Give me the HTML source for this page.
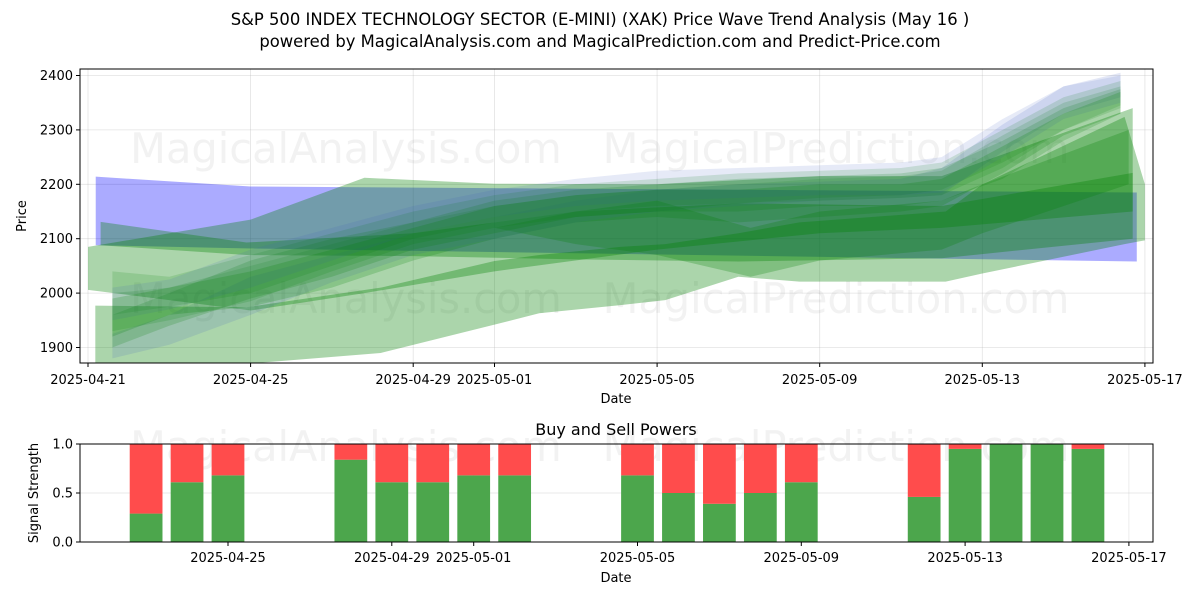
<!DOCTYPE html>
<html><head><meta charset="utf-8">
<style>
html,body{margin:0;padding:0;background:#fff;}
svg{display:block;font-family:"DejaVu Sans","Liberation Sans",sans-serif;}
</style></head>
<body>
<svg id="chart" width="1200" height="600" viewBox="0 0 1200 600" xmlns="http://www.w3.org/2000/svg">
<text x="600" y="25" text-anchor="middle" font-size="16.4">S&amp;P 500 INDEX TECHNOLOGY SECTOR (E-MINI) (XAK) Price Wave Trend Analysis (May 16 )</text>
<text x="600" y="47" text-anchor="middle" font-size="16.4">powered by MagicalAnalysis.com and MagicalPrediction.com and Predict-Price.com</text>
<g id="top"></g>
<g id="bottom"></g>
</svg>
<script>
// ---- top chart data ----
const tickDates = ["2025-04-21","2025-04-25","2025-04-29","2025-05-01","2025-05-05","2025-05-09","2025-05-13","2025-05-17"];
const tickDays = [0,4,8,10,14,18,22,26];
const priceTicks = [1900,2000,2100,2200,2300,2400];

const blueDays = [0.19,4,25.8];
const blueLo = [2088,2082,2058];
const blueHi = [2214,2196,2185];

const tealDays = [0.31,3.9,8,12,16,21,25.7];
const tealLo = [2088,2070,2068,2062,2058,2064,2100];
const tealHi = [2131,2093,2110,2150,2165,2160,2221];

const upperDays = [0,4,6.8,10,14,18,21,25.7];
const upperLo = [2006,1968,2000,2040,2080,2110,2120,2150];
const upperHi = [2085,2135,2212,2201,2200,2215,2215,2340];

const lowerDays = [0.18,3.9,7.2,10,11.1,13.1,14.2,16,17.5,21.1,22,25.5,26];
const lowerLo = [1872,1870,1890,1942,1963,1978,1987,2030,2021,2021,2036,2090,2097];
const lowerHi = [1977,1974,2010,2059,2070,2085,2090,2110,2130,2150,2200,2324,2200];

const dipDays = [10,12,14,16.3,18,21,22,25.6];
const dipLo = [2120,2090,2070,2030,2060,2080,2110,2200];
const dipHi = [2120,2150,2170,2120,2150,2170,2200,2300];

const ensDays = [0.6,2,4,6,8,10,12,14,16,18,20,21,22.5,24,25.4];
const ens1Lo = [1880,1905,1960,2020,2070,2100,2130,2150,2160,2170,2175,2180,2260,2330,2360];
const ens1Hi = [1925,1960,2030,2070,2110,2140,2170,2190,2200,2205,2210,2230,2310,2380,2405];
const ens2Lo = [1930,1950,1985,2040,2090,2120,2140,2150,2165,2170,2175,2180,2230,2300,2340];
const ens2Hi = [2000,2010,2050,2090,2130,2160,2180,2190,2200,2210,2215,2225,2290,2350,2380];
const ens3Lo = [1960,1975,2000,2050,2100,2130,2150,2160,2165,2175,2180,2190,2240,2300,2345];
const ens3Hi = [2040,2030,2070,2110,2150,2180,2200,2210,2220,2225,2230,2240,2300,2360,2390];
const ens4Lo = [1900,1940,1990,2030,2080,2110,2140,2150,2150,2160,2160,2170,2210,2280,2330];
const ens4Hi = [1960,2000,2060,2100,2130,2170,2190,2200,2210,2215,2220,2230,2280,2340,2375];
const ens5Lo = [1950,1970,2010,2060,2110,2140,2160,2170,2175,2180,2180,2185,2250,2320,2350];
const ens5Hi = [2010,2025,2080,2120,2160,2190,2210,2225,2230,2235,2240,2250,2320,2380,2400];
const ens6Lo = [1920,1960,1975,2010,2060,2100,2130,2140,2130,2140,2150,2160,2220,2290,2330];
const ens6Hi = [1990,2010,2040,2080,2120,2160,2180,2190,2190,2200,2200,2210,2270,2330,2370];

// ---- bottom chart data ----
const barDays = [2,3,4,7,8,9,10,11,14,15,16,17,18,21,22,23,24,25];
const buyPower = [0.29,0.61,0.68,0.84,0.61,0.61,0.68,0.68,0.68,0.5,0.39,0.5,0.61,0.46,0.95,1.0,1.0,0.95];
const bottomTickDates = ["2025-04-25","2025-04-29","2025-05-01","2025-05-05","2025-05-09","2025-05-13","2025-05-17"];
const bottomTickDays = [4,8,10,14,18,22,26];
const signalTicks = [0,0.5,1];

const NS="http://www.w3.org/2000/svg";
function mk(tag, attrs, parent){const e=document.createElementNS(NS,tag);for(const k in attrs)e.setAttribute(k,attrs[k]);parent.appendChild(e);return e;}

// top axes
const L=80,R=1153,T=69,B=363;
const xT=d=>88+d*40.65;
const yT=v=>75.5+(2400-v)*0.544;
const topG=document.getElementById('top');
mk('defs',{},topG).innerHTML='<clipPath id="clipTop"><rect x="80" y="69" width="1073" height="294"/></clipPath>';
priceTicks.forEach(v=>{const l=mk('line',{x1:L,x2:R,y1:yT(v),y2:yT(v),stroke:'#b0b0b0','stroke-opacity':0.35,'stroke-width':0.8},topG);

});
tickDays.forEach(d=>{const l=mk('line',{x1:xT(d),x2:xT(d),y1:T,y2:B,stroke:'#b0b0b0','stroke-opacity':0.35,'stroke-width':0.8},topG);

});

function wm(g,y,fs){
  const a=mk('text',{x:346,y:y,'text-anchor':'middle','font-size':fs,fill:'#808080','fill-opacity':0.1},g);a.textContent='MagicalAnalysis.com';
  
  
  const b=mk('text',{x:836,y:y,'text-anchor':'middle','font-size':fs,fill:'#808080','fill-opacity':0.1},g);b.textContent='MagicalPrediction.com';
  
  
}
wm(topG,163,41.5);wm(topG,313,41.5);

const bands=mk('g',{'clip-path':'url(#clipTop)'},topG);
function band(days,lo,hi,color,op,name){
  let pts=[];
  for(let i=0;i<days.length;i++)pts.push(xT(days[i])+','+yT(hi[i]));
  for(let i=days.length-1;i>=0;i--)pts.push(xT(days[i])+','+yT(lo[i]));
  const p=mk('polygon',{points:pts.join(' '),fill:color,'fill-opacity':op},bands);
  
  
}
band(blueDays,blueLo,blueHi,'#0000ff',0.33,'blue-band');
band(lowerDays,lowerLo,lowerHi,'#008000',0.33,'lower-green-band');
band(upperDays,upperLo,upperHi,'#008000',0.33,'upper-green-band');
band(tealDays,tealLo,tealHi,'#008000',0.33,'mid-green-band');
band(dipDays,dipLo,dipHi,'#008000',0.25,'dip-green-band');
band(ensDays,ens1Lo,ens1Hi,'#4060c0',0.15,'ensemble-band-1');
band(ensDays,ens2Lo,ens2Hi,'#008000',0.15,'ensemble-band-2');
band(ensDays,ens3Lo,ens3Hi,'#008000',0.15,'ensemble-band-3');
band(ensDays,ens4Lo,ens4Hi,'#008000',0.18,'ensemble-band-4');
band(ensDays,ens5Lo,ens5Hi,'#4060c0',0.13,'ensemble-band-5');
band(ensDays,ens6Lo,ens6Hi,'#008000',0.2,'ensemble-band-6');

const fr=mk('rect',{x:L,y:T,width:R-L,height:B-T,fill:'none',stroke:'#000','stroke-width':1},topG);


priceTicks.forEach(v=>{mk('line',{x1:L-4,x2:L,y1:yT(v),y2:yT(v),stroke:'#000'},topG);
const t=mk('text',{x:L-7,y:yT(v)+4.5,'text-anchor':'end','font-size':13},topG);t.textContent=v;

});
tickDays.forEach((d,i)=>{mk('line',{x1:xT(d),x2:xT(d),y1:B,y2:B+4,stroke:'#000'},topG);
const t=mk('text',{x:xT(d),y:B+21,'text-anchor':'middle','font-size':13},topG);t.textContent=tickDates[i];

});
let t1=mk('text',{x:616,y:403,'text-anchor':'middle','font-size':13},topG);t1.textContent='Date';


let t2=mk('text',{x:0,y:0,'text-anchor':'middle','font-size':13,transform:'translate(26,216) rotate(-90)'},topG);t2.textContent='Price';



// bottom axes
const BT=444,BB=542;
const xB=d=>64.2+d*40.95;
const yB=v=>BB-v*(BB-BT);
const botG=document.getElementById('bottom');
let bt=mk('text',{x:616,y:435,'text-anchor':'middle','font-size':16},botG);bt.textContent='Buy and Sell Powers';


signalTicks.forEach(v=>{const l=mk('line',{x1:L,x2:R,y1:yB(v),y2:yB(v),stroke:'#b0b0b0','stroke-opacity':0.35,'stroke-width':0.8},botG);

});
bottomTickDays.forEach(d=>{const l=mk('line',{x1:xB(d),x2:xB(d),y1:BT,y2:BB,stroke:'#b0b0b0','stroke-opacity':0.3,'stroke-width':0.8},botG);

});
const ws=mk('g',{},botG);
(function(){const a=mk('text',{x:346,y:461,'text-anchor':'middle','font-size':41.5,fill:'#808080','fill-opacity':0.1},ws);a.textContent='MagicalAnalysis.com';


const b=mk('text',{x:836,y:461,'text-anchor':'middle','font-size':41.5,fill:'#808080','fill-opacity':0.1},ws);b.textContent='MagicalPrediction.com';

})();
barDays.forEach((d,i)=>{
  const w=0.8*40.95, x=xB(d)-w/2, g=buyPower[i];
  const r1=mk('rect',{x:x,y:yB(g),width:w,height:yB(0)-yB(g),fill:'#4ca64c'},botG);
  
  
  const r2=mk('rect',{x:x,y:yB(1),width:w,height:yB(g)-yB(1),fill:'#ff4c4c'},botG);
  
  
});
const fr2=mk('rect',{x:L,y:BT,width:R-L,height:BB-BT,fill:'none',stroke:'#000','stroke-width':1},botG);


signalTicks.forEach(v=>{mk('line',{x1:L-4,x2:L,y1:yB(v),y2:yB(v),stroke:'#000'},botG);
const t=mk('text',{x:L-7,y:yB(v)+4.5,'text-anchor':'end','font-size':13},botG);t.textContent=v.toFixed(1);

});
bottomTickDays.forEach((d,i)=>{mk('line',{x1:xB(d),x2:xB(d),y1:BB,y2:BB+4,stroke:'#000'},botG);
const t=mk('text',{x:xB(d),y:BB+20,'text-anchor':'middle','font-size':13},botG);t.textContent=bottomTickDates[i];

});
let t3=mk('text',{x:616,y:582,'text-anchor':'middle','font-size':13},botG);t3.textContent='Date';


let t4=mk('text',{x:0,y:0,'text-anchor':'middle','font-size':13,transform:'translate(38,493) rotate(-90)'},botG);t4.textContent='Signal Strength';


</script>
</body></html>
